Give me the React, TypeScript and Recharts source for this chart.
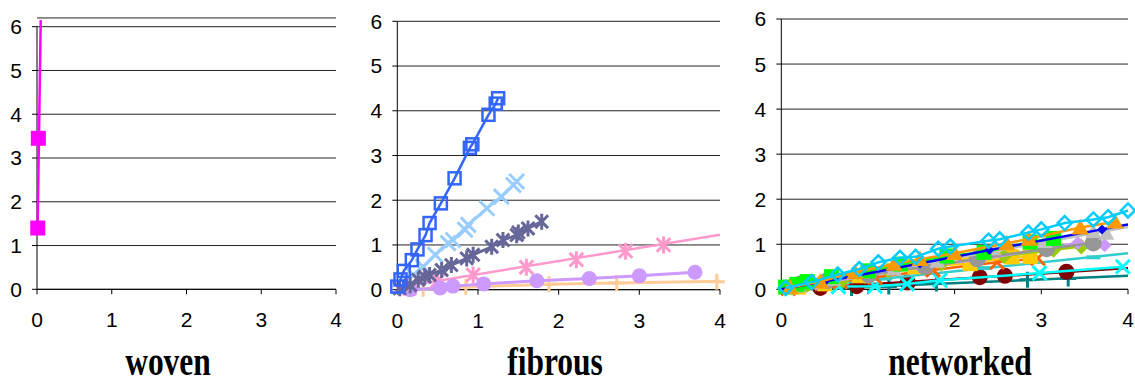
import React from 'react';
import { ScatterChart, Scatter, XAxis, YAxis, CartesianGrid, ReferenceLine } from 'recharts';

// ---------- axis ticks / titles ----------
const xTicks = [0, 1, 2, 3, 4];
const yTicks = [0, 1, 2, 3, 4, 5, 6];
const panelTitles = ['woven', 'fibrous', 'networked'];

// ---------- woven ----------
const wovenPts = [{ x: 0.01, y: 1.4 }, { x: 0.018, y: 3.45 }];
const wovenLine = [{ x: 0.008, y: 1.4 }, { x: 0.05, y: 6.15 }];

// ---------- fibrous ----------
const fibBlue = [
  { x: 0, y: 0.07 }, { x: 0.04, y: 0.23 }, { x: 0.08, y: 0.42 }, { x: 0.18, y: 0.66 },
  { x: 0.25, y: 0.9 }, { x: 0.35, y: 1.22 }, { x: 0.4, y: 1.49 }, { x: 0.54, y: 1.93 },
  { x: 0.71, y: 2.49 }, { x: 0.9, y: 3.17 }, { x: 0.93, y: 3.25 }, { x: 1.13, y: 3.91 },
  { x: 1.22, y: 4.16 }, { x: 1.25, y: 4.28 },
];
const fibLightBlue = [
  { x: 0.2, y: 0.33 }, { x: 0.32, y: 0.51 }, { x: 0.47, y: 0.78 }, { x: 0.63, y: 1.04 },
  { x: 0.69, y: 1.11 }, { x: 0.84, y: 1.34 }, { x: 0.88, y: 1.45 }, { x: 1.11, y: 1.82 },
  { x: 1.29, y: 2.08 }, { x: 1.44, y: 2.34 }, { x: 1.48, y: 2.42 },
];
const fibSlate = [
  { x: 0.03, y: 0.03 }, { x: 0.16, y: 0.1 }, { x: 0.26, y: 0.22 }, { x: 0.34, y: 0.29 },
  { x: 0.4, y: 0.33 }, { x: 0.55, y: 0.44 }, { x: 0.67, y: 0.55 }, { x: 0.86, y: 0.7 },
  { x: 0.94, y: 0.78 }, { x: 1.17, y: 0.96 }, { x: 1.31, y: 1.11 }, { x: 1.48, y: 1.22 },
  { x: 1.5, y: 1.28 }, { x: 1.62, y: 1.37 }, { x: 1.79, y: 1.52 },
];
const fibPinkPts = [
  { x: 0.15, y: 0.03 }, { x: 0.5, y: 0.2 }, { x: 0.94, y: 0.33 }, { x: 1.6, y: 0.5 },
  { x: 2.22, y: 0.67 }, { x: 2.83, y: 0.86 }, { x: 3.3, y: 1.0 },
];
const fibPinkTrend = [{ x: 0, y: 0.05 }, { x: 4, y: 1.23 }];
const fibPurple = [
  { x: 0.16, y: 0 }, { x: 0.53, y: 0.04 }, { x: 0.69, y: 0.08 }, { x: 1.07, y: 0.13 },
  { x: 1.73, y: 0.2 }, { x: 2.38, y: 0.25 }, { x: 3.0, y: 0.31 }, { x: 3.69, y: 0.39 },
];
const fibOrangePts = [
  { x: 0.32, y: 0.02 }, { x: 0.85, y: 0.06 }, { x: 1.88, y: 0.12 }, { x: 2.72, y: 0.15 }, { x: 3.96, y: 0.18 },
];
const fibOrangeLine = [
  { x: 0.1, y: 0.0 }, { x: 0.85, y: 0.06 }, { x: 1.88, y: 0.12 }, { x: 2.72, y: 0.15 }, { x: 4.0, y: 0.19 },
];

// ---------- networked ----------
const netCyanDiamond = [
  { x: 0.05, y: 0.03 }, { x: 0.35, y: 0.16 }, { x: 0.65, y: 0.33 }, { x: 0.9, y: 0.45 },
  { x: 1.12, y: 0.6 }, { x: 1.37, y: 0.7 }, { x: 1.55, y: 0.72 }, { x: 1.81, y: 0.9 },
  { x: 1.95, y: 0.95 }, { x: 2.39, y: 1.08 }, { x: 2.52, y: 1.11 }, { x: 2.85, y: 1.26 },
  { x: 3.0, y: 1.33 }, { x: 3.27, y: 1.47 }, { x: 3.6, y: 1.55 }, { x: 3.77, y: 1.6 }, { x: 4.0, y: 1.75 },
];
const netOrangeTri = [
  { x: 0.1, y: 0.04 }, { x: 0.45, y: 0.17 }, { x: 0.85, y: 0.38 }, { x: 1.3, y: 0.56 },
  { x: 1.6, y: 0.67 }, { x: 2.0, y: 0.8 }, { x: 2.6, y: 1.02 }, { x: 2.86, y: 1.12 },
  { x: 3.45, y: 1.37 }, { x: 3.85, y: 1.5 },
];
const netBluePts = [{ x: 0.5, y: 0.17 }, { x: 1.6, y: 0.57 }, { x: 2.4, y: 0.87 }, { x: 3.7, y: 1.33 }];
const netBlueLine = [{ x: 0, y: 0 }, { x: 1.0, y: 0.35 }, { x: 2.4, y: 0.87 }, { x: 3.7, y: 1.33 }, { x: 4.0, y: 1.44 }];
const netGrayTri = [
  { x: 0.2, y: 0.07 }, { x: 0.6, y: 0.22 }, { x: 1.3, y: 0.45 }, { x: 1.8, y: 0.62 },
  { x: 2.45, y: 0.9 }, { x: 3.04, y: 1.06 }, { x: 3.6, y: 1.28 }, { x: 3.75, y: 1.24 },
];
const netGrayTriLine = [{ x: 0, y: 0 }, { x: 4.0, y: 1.38 }];
const netGreenSq = [
  { x: 0.05, y: 0.05 }, { x: 0.18, y: 0.11 }, { x: 0.3, y: 0.17 }, { x: 0.58, y: 0.28 },
  { x: 1.0, y: 0.41 }, { x: 1.37, y: 0.56 }, { x: 1.91, y: 0.74 }, { x: 2.34, y: 0.82 },
  { x: 2.87, y: 1.05 }, { x: 3.14, y: 1.13 },
];
const netGoldSq = [
  { x: 0.2, y: 0.05 }, { x: 0.5, y: 0.12 }, { x: 0.9, y: 0.3 }, { x: 1.54, y: 0.5 },
  { x: 2.18, y: 0.57 }, { x: 2.66, y: 0.72 }, { x: 2.87, y: 0.73 },
];
const netOliveDia = [
  { x: 0.3, y: 0.1 }, { x: 0.7, y: 0.2 }, { x: 1.23, y: 0.42 }, { x: 1.85, y: 0.57 },
  { x: 2.57, y: 0.74 }, { x: 3.14, y: 0.88 }, { x: 3.46, y: 0.95 },
];
const netLavender = [
  { x: 0.4, y: 0.12 }, { x: 1.0, y: 0.3 }, { x: 1.6, y: 0.5 }, { x: 2.3, y: 0.66 },
  { x: 3.42, y: 1.03 }, { x: 3.73, y: 0.98 },
];
const netGrayCircle = [
  { x: 0.22, y: 0.12 }, { x: 0.53, y: 0.19 }, { x: 1.01, y: 0.32 }, { x: 1.66, y: 0.5 },
  { x: 2.26, y: 0.68 }, { x: 3.06, y: 0.9 }, { x: 3.6, y: 1.03 },
];
const netRedX = [
  { x: 0.08, y: 0.02 }, { x: 0.68, y: 0.17 }, { x: 1.08, y: 0.27 }, { x: 1.75, y: 0.43 },
  { x: 2.49, y: 0.6 }, { x: 2.96, y: 0.69 },
];
const netTealDash = [{ x: 1.2, y: 0.24 }, { x: 2.33, y: 0.47 }, { x: 3.6, y: 0.71 }];
const netTealLine = [{ x: 0, y: 0 }, { x: 4.0, y: 0.8 }];
const netMaroon = [
  { x: 0.45, y: 0.03 }, { x: 0.87, y: 0.07 }, { x: 1.46, y: 0.15 }, { x: 2.29, y: 0.27 },
  { x: 2.58, y: 0.3 }, { x: 3.29, y: 0.39 },
];
const netMaroonLine = [{ x: 0.1, y: 0 }, { x: 4.0, y: 0.47 }];
const netCyanX = [
  { x: 0.66, y: 0.06 }, { x: 1.08, y: 0.07 }, { x: 1.45, y: 0.12 }, { x: 1.83, y: 0.2 },
  { x: 2.98, y: 0.36 }, { x: 3.94, y: 0.5 },
];
const netDarkTeal = [
  { x: 0.81, y: 0.03 }, { x: 1.24, y: 0.06 }, { x: 1.79, y: 0.13 }, { x: 2.84, y: 0.21 }, { x: 3.31, y: 0.24 },
];
const netDarkTealLine = [{ x: 0.3, y: 0 }, { x: 4.0, y: 0.3 }];

// ---------- marker drawing ----------
const Marker = (p: any) => {
  const { cx, cy, kind, color, size, sw } = p;
  if (cx == null || cy == null || kind === 'none') return <g />;
  const h = size / 2;
  const w = sw || 2;
  switch (kind) {
    case 'square':
      return <rect x={cx - h} y={cy - h} width={size} height={size} fill={color} />;
    case 'osquare':
      return <rect x={cx - h} y={cy - h} width={size} height={size} fill="none" stroke={color} strokeWidth={w} />;
    case 'circle':
      return <circle cx={cx} cy={cy} r={h} fill={color} />;
    case 'diamond':
      return <polygon points={`${cx},${cy - h} ${cx + h},${cy} ${cx},${cy + h} ${cx - h},${cy}`} fill={color} />;
    case 'odiamond':
      return <polygon points={`${cx},${cy - h} ${cx + h},${cy} ${cx},${cy + h} ${cx - h},${cy}`} fill="none" stroke={color} strokeWidth={w} />;
    case 'triangle':
      return <polygon points={`${cx},${cy - h} ${cx + h},${cy + h * 0.8} ${cx - h},${cy + h * 0.8}`} fill={color} />;
    case 'x':
      return <path d={`M${cx - h},${cy - h}L${cx + h},${cy + h}M${cx + h},${cy - h}L${cx - h},${cy + h}`} stroke={color} strokeWidth={w} fill="none" />;
    case 'plus':
      return <path d={`M${cx - h},${cy}L${cx + h},${cy}M${cx},${cy - h}L${cx},${cy + h}`} stroke={color} strokeWidth={w} fill="none" />;
    case 'star': {
      const d = h * 0.8;
      return <path d={`M${cx - d},${cy - d}L${cx + d},${cy + d}M${cx + d},${cy - d}L${cx - d},${cy + d}M${cx},${cy - h}L${cx},${cy + h}`} stroke={color} strokeWidth={w} fill="none" />;
    }
    case 'dash':
      return <path d={`M${cx - h},${cy}L${cx + h},${cy}`} stroke={color} strokeWidth={w + 1} fill="none" />;
    default:
      return <g />;
  }
};

type S = { data: any[]; color: string; kind: string; size?: number; sw?: number; lw?: number };

const woven: S[] = [
  { data: wovenLine, color: '#FF00FF', kind: 'none', lw: 2.5 },
  { data: wovenPts, color: '#FF00FF', kind: 'square', size: 15 },
];

const fibrous: S[] = [
  { data: fibOrangeLine, color: '#FFCC99', kind: 'none', lw: 3 },
  { data: fibOrangePts, color: '#FFCC99', kind: 'plus', size: 16, sw: 3 },
  { data: fibPinkTrend, color: '#FF99CC', kind: 'none', lw: 2.5 },
  { data: fibPinkPts, color: '#FF99CC', kind: 'star', size: 17, sw: 3 },
  { data: fibPurple, color: '#CC99FF', kind: 'circle', size: 15, lw: 3 },
  { data: fibLightBlue, color: '#99CCFF', kind: 'x', size: 15, sw: 3, lw: 3 },
  { data: fibSlate, color: '#666699', kind: 'star', size: 16, sw: 3, lw: 3 },
  { data: fibBlue, color: '#3366FF', kind: 'osquare', size: 12, sw: 2.5, lw: 2.5 },
];

const networked: S[] = [
  { data: netDarkTealLine, color: '#008080', kind: 'none', lw: 2.5 },
  { data: netDarkTeal, color: '#008080', kind: 'plus', size: 16, sw: 3 },
  { data: netMaroonLine, color: '#800000', kind: 'none', lw: 2.5 },
  { data: netMaroon, color: '#800000', kind: 'circle', size: 16 },
  { data: netCyanX, color: '#00FFFF', kind: 'x', size: 14, sw: 3, lw: 2.5 },
  { data: netTealLine, color: '#33CCCC', kind: 'none', lw: 2.5 },
  { data: netTealDash, color: '#33CCCC', kind: 'dash', size: 14, sw: 3 },
  { data: netRedX, color: '#FF6600', kind: 'x', size: 14, sw: 3, lw: 2.5 },
  { data: netGoldSq, color: '#FFCC00', kind: 'square', size: 15, lw: 2.5 },
  { data: netOliveDia, color: '#99CC00', kind: 'diamond', size: 16, lw: 2.5 },
  { data: netLavender, color: '#CC99FF', kind: 'diamond', size: 14, lw: 2.5 },
  { data: netGrayCircle, color: '#969696', kind: 'circle', size: 17, lw: 2.5 },
  { data: netGrayTriLine, color: '#C0C0C0', kind: 'none', lw: 2.5 },
  { data: netGrayTri, color: '#C0C0C0', kind: 'triangle', size: 16 },
  { data: netGreenSq, color: '#00FF00', kind: 'square', size: 15, lw: 2.5 },
  { data: netBlueLine, color: '#0000FF', kind: 'none', lw: 2.5 },
  { data: netBluePts, color: '#0000FF', kind: 'diamond', size: 10 },
  { data: netOrangeTri, color: '#FF9900', kind: 'triangle', size: 17, lw: 2.5 },
  { data: netCyanDiamond, color: '#00CCFF', kind: 'odiamond', size: 14, sw: 2.5, lw: 2.5 },
];

const H = 383;
const AXIS_FONT = { fontFamily: 'Liberation Sans, Arial, sans-serif', fontSize: 21, fill: '#000' };

type PanelProps = {
  left: number; width: number; yAxisWidth: number; plotRight: number;
  plotTop: number; plotBottom: number; yMax: number; series: S[]; customAxis?: boolean;
};

const Panel = ({ left, width, yAxisWidth, plotRight, plotTop, plotBottom, yMax, series, customAxis }: PanelProps) => {
  const xAxisH = 40;
  const margin = { top: plotTop, right: width - plotRight, bottom: H - plotBottom - xAxisH, left: 0 };
  return (
    <div style={{ position: 'absolute', left, top: 0 }}>
      <ScatterChart width={width} height={H} margin={margin}>
        <CartesianGrid horizontal vertical={false} stroke="#222" strokeWidth={1} />
        <XAxis type="number" dataKey="x" domain={[0, 4]} ticks={xTicks} interval={0}
          height={xAxisH} tickSize={5} tickMargin={18} stroke="#000" tick={AXIS_FONT}
          axisLine={{ stroke: '#000' }} tickLine={{ stroke: '#000' }} allowDecimals={false} />
        <YAxis type="number" dataKey="y" domain={[0, yMax]} ticks={yTicks} interval={0}
          width={yAxisWidth} tickSize={5} tickMargin={10} tick={AXIS_FONT}
          axisLine={customAxis ? false : { stroke: '#000' }} tickLine={{ stroke: '#000' }} />
        {customAxis && (
          <ReferenceLine segment={[{ x: 0, y: 0 }, { x: 0, y: 6 }]} stroke="#000" strokeWidth={1} ifOverflow="visible" />
        )}
        {series.map((s, i) => (
          <Scatter key={i} data={s.data} isAnimationActive={false}
            line={s.lw ? { stroke: s.color, strokeWidth: s.lw } : false}
            lineType="joint"
            shape={(p: any) => <Marker cx={p.cx} cy={p.cy} kind={s.kind} color={s.color} size={s.size || 10} sw={s.sw} />} />
        ))}
      </ScatterChart>
    </div>
  );
};

const u1 = (289.3 - 26.7) / 6;

export default function App() {
  const titleCenters = [168, 555, 960];
  return (
    <div style={{ position: 'absolute', left: 0, top: 0, width: 1135, height: H, background: '#fff', overflow: 'hidden' }}>
      <Panel left={0} width={346} yAxisWidth={37} plotRight={336} plotTop={289.3 - 6.2 * u1} plotBottom={289.3}
        yMax={6.2} series={woven} customAxis />
      <Panel left={350} width={385} yAxisWidth={47.3} plotRight={370} plotTop={21.3} plotBottom={289.7}
        yMax={6} series={fibrous} />
      <Panel left={740} width={395} yAxisWidth={41.3} plotRight={388} plotTop={19} plotBottom={289.3}
        yMax={6} series={networked} />
      <svg width={1135} height={H} style={{ position: 'absolute', left: 0, top: 0, pointerEvents: 'none' }}>
        {panelTitles.map((t, i) => (
          <text key={t} transform={`translate(${titleCenters[i]},375) scale(1,1.3)`} textAnchor="middle"
            style={{ fontFamily: 'Liberation Serif, Times New Roman, serif', fontWeight: 'bold', fontSize: 31.5 }} fill="#000">
            {t}
          </text>
        ))}
      </svg>
    </div>
  );
}
